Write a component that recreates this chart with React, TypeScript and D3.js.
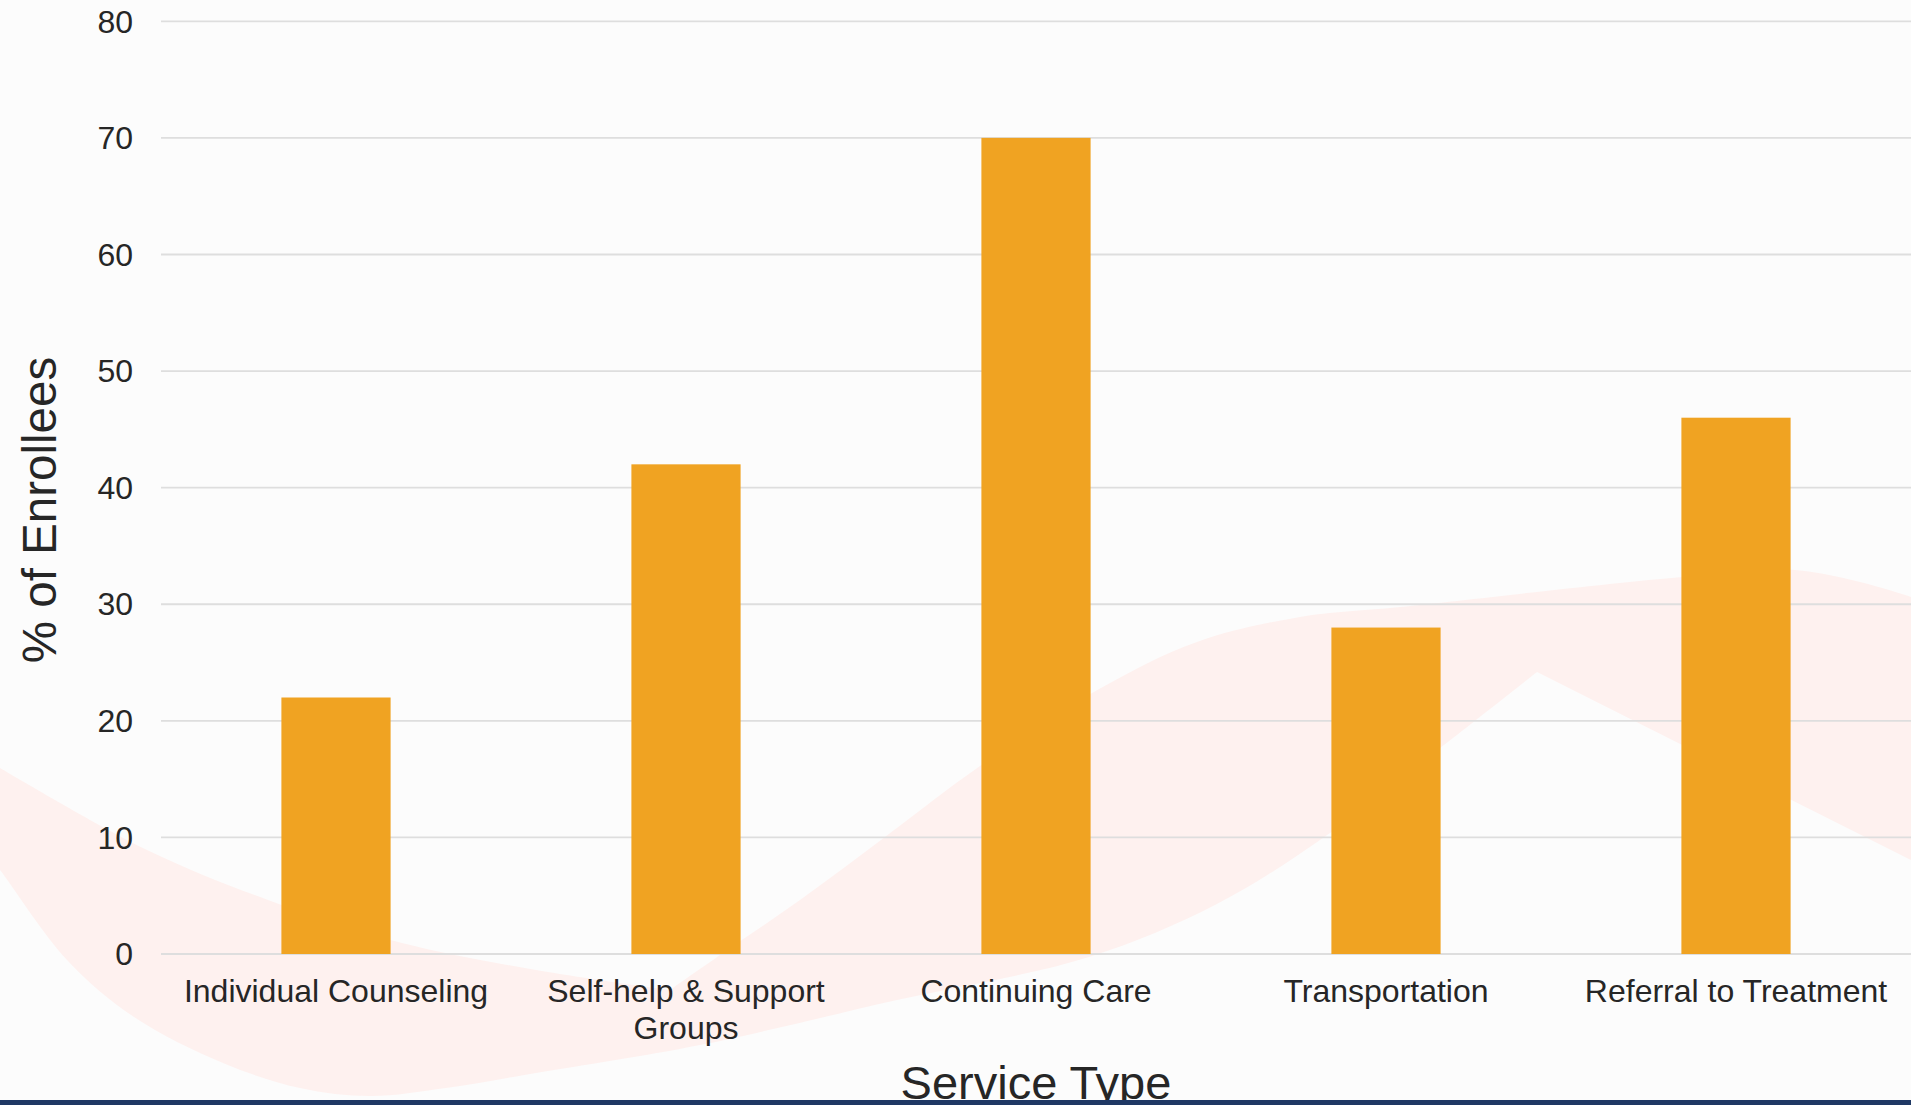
import React from "react";
import * as d3 from "d3";

// ---- chart data ----
const categories = [
  "Individual Counseling",
  "Self-help & Support Groups",
  "Continuing Care",
  "Transportation",
  "Referral to Treatment",
];
const enrolleePct = [22, 42, 70, 28, 46];
const yTicks = [0, 10, 20, 30, 40, 50, 60, 70, 80];
const yTitle = "% of Enrollees";
const xTitle = "Service Type";

// ---- page geometry ----
const W = 1911;
const H = 1105;
const plot = { left: 161, right: 1911, top: 21.3, bottom: 954 };
const FONT = "'Liberation Sans', Arial, Helvetica, sans-serif";

// ---- decorative ribbon behind the plot (slide background) ----
type Pt = [number, number];
const ribbonUpperBand: Pt[] = [
  [-10, 762], [0, 768], [147, 850], [268, 900], [402, 943], [536, 970], [670, 990],
];
const ribbonRising: Pt[] = [
  [670, 990], [723, 953], [800, 900], [885, 837], [980, 766], [1101, 688],
  [1197, 642], [1300, 617], [1400, 607], [1682, 577], [1795, 570], [1911, 597], [1925, 604],
];
const ribbonRightSide: Pt[] = [
  [1925, 604], [1925, 867], [1911, 860], [1537, 672],
];
const ribbonLower: Pt[] = [
  [1537, 672], [1440, 748], [1320, 840], [1215, 905], [1089, 957], [897, 1000],
  [700, 1045], [536, 1073], [446, 1088], [370, 1096], [300, 1088], [223, 1063],
  [134, 1017], [67, 960], [0, 870], [-10, 858],
];

function ribbonPath(): string {
  const curvy = d3.line<Pt>().curve(d3.curveCatmullRom.alpha(0.5));
  const straight = d3.line<Pt>();
  const parts = [
    curvy(ribbonUpperBand) || "",
    curvy(ribbonRising) || "",
    straight(ribbonRightSide) || "",
    curvy(ribbonLower) || "",
  ];
  return parts.map((p, i) => (i === 0 ? p : "L" + p.slice(1))).join("") + "Z";
}

// wrap a label into lines no wider than maxWidth (measured with canvas)
function wrapLabel(text: string, font: string, maxWidth: number): string[] {
  const ctx = document.createElement("canvas").getContext("2d");
  if (!ctx) return [text];
  ctx.font = font;
  const words = text.split(" ");
  const lines: string[] = [];
  let cur = "";
  for (const w of words) {
    const test = cur ? cur + " " + w : w;
    if (ctx.measureText(test).width > maxWidth && cur) {
      lines.push(cur);
      cur = w;
    } else {
      cur = test;
    }
  }
  if (cur) lines.push(cur);
  return lines;
}

export default function App() {
  const x = d3
    .scaleBand<string>()
    .domain(categories)
    .range([plot.left, plot.right])
    .paddingInner(0.688)
    .paddingOuter(0.344);
  const y = d3.scaleLinear().domain([0, 80]).range([plot.bottom, plot.top]);

  const labelFont = `32px ${FONT}`;

  return (
    <svg
      width={W}
      height={H}
      viewBox={`0 0 ${W} ${H}`}
      style={{ position: "absolute", left: 0, top: 0, display: "block" }}
    >
      <rect x={0} y={0} width={W} height={H} fill="#fcfcfc" />
      <path d={ribbonPath()} fill="#fef1ef" />

      {/* gridlines */}
      {yTicks.map((t) => (
        <line
          key={"g" + t}
          x1={plot.left}
          x2={W}
          y1={y(t)}
          y2={y(t)}
          stroke="#dedede"
          strokeWidth={1.8}
        />
      ))}

      {/* bars */}
      {categories.map((c, i) => (
        <rect
          key={c}
          x={x(c)}
          y={y(enrolleePct[i])}
          width={x.bandwidth()}
          height={y(0) - y(enrolleePct[i])}
          fill="#f0a322"
        />
      ))}

      {/* y tick labels */}
      {yTicks.map((t) => (
        <text
          key={"t" + t}
          x={133}
          y={y(t)}
          dy="0.35em"
          textAnchor="end"
          fontFamily={FONT}
          fontSize={32}
          fill="#262626"
        >
          {t}
        </text>
      ))}

      {/* category labels */}
      {categories.map((c) => {
        const lines = wrapLabel(c, labelFont, 330);
        const cx = (x(c) ?? 0) + x.bandwidth() / 2;
        return (
          <text
            key={"c" + c}
            x={cx}
            y={1002}
            textAnchor="middle"
            fontFamily={FONT}
            fontSize={32}
            fill="#262626"
          >
            {lines.map((ln, k) => (
              <tspan key={k} x={cx} dy={k === 0 ? 0 : 36.7}>
                {ln}
              </tspan>
            ))}
          </text>
        );
      })}

      {/* axis titles */}
      <text
        transform={`translate(56,510) rotate(-90)`}
        textAnchor="middle"
        fontFamily={FONT}
        fontSize={47.5}
        fill="#262626"
      >
        {yTitle}
      </text>
      <text
        x={(plot.left + plot.right) / 2}
        y={1099}
        textAnchor="middle"
        fontFamily={FONT}
        fontSize={47}
        fill="#262626"
      >
        {xTitle}
      </text>

      {/* footer band */}
      <rect x={0} y={1100} width={W} height={5} fill="#1f3864" />
    </svg>
  );
}
